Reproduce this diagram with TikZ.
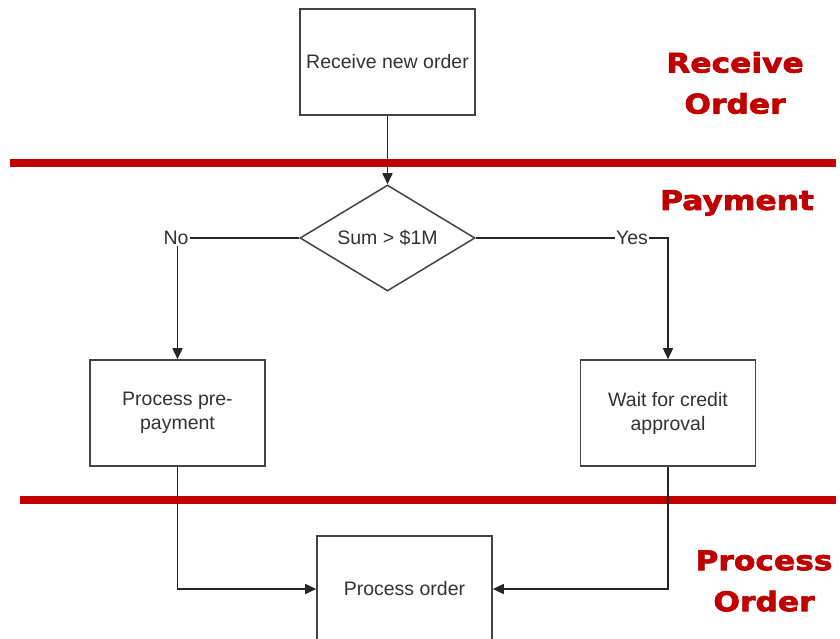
\documentclass[tikz,border=0pt]{standalone}
\usepackage{fontspec}
\setmainfont{Liberation Sans}
\newfontfamily\lanefont{DejaVu Sans}[FakeStretch=1.16,FakeBold=2.6]
\usetikzlibrary{shapes.geometric,arrows.meta}
\definecolor{lanered}{HTML}{C00000}
\definecolor{boxline}{HTML}{444444}
\definecolor{connline}{HTML}{262626}
\definecolor{txt}{HTML}{333333}
\begin{document}
\begin{tikzpicture}[x=1pt,y=-1pt,
  stepbox/.style={draw=boxline,line width=1.6pt,fill=white,minimum width=175pt,minimum height=106pt,inner sep=0pt,
    text=txt,font=\fontsize{19.5}{24}\selectfont,align=center},
  decbox/.style={draw=boxline,line width=1.5pt,diamond,shape aspect=1.65,minimum width=175pt,minimum height=106pt,inner sep=0pt,
    text=txt,font=\fontsize{19.5}{24}\selectfont},
  lbl/.style={text=txt,font=\fontsize{19.5}{24}\selectfont,inner sep=1pt},
  conn/.style={draw=connline,line width=1.6pt},
  arr/.style={conn,-{Triangle[length=11pt,width=10pt]}},
  lane/.style={draw=lanered,line width=8.5pt},
  lanetxt/.style={text=lanered,font=\lanefont\bfseries\fontsize{27}{41}\selectfont,align=center}]
\useasboundingbox (0,0) rectangle (840,639);
\fill[white] (0,0) rectangle (840,639);
% lanes
\coordinate (l1a) at (10,163);
\coordinate (l1b) at (836,163);
\coordinate (l2a) at (20,500);
\coordinate (l2b) at (836,500);
\draw[lane] (l1a) -- (l1b);
\draw[lane] (l2a) -- (l2b);
\node[lanetxt] (t1) at (735,83) {Receive\\Order};
\node[lanetxt] (t2) at (737,203) {Payment};
\node[lanetxt] (t3) at (764,581) {Process\\Order};
% nodes
\node[stepbox] (recv) at (387.5,62) {Receive new order};
\node[decbox] (dec) at (387.5,238) {Sum > \$1M};
\node[stepbox] (pre) at (177.5,413) {Process pre-\\payment};
\node[stepbox] (wait) at (668,413) {Wait for credit\\approval};
\node[stepbox] (order) at (404.5,589) {Process order};
\node[lbl] (no) at (176,238) {No};
\node[lbl] (yes) at (632,238) {Yes};
\coordinate (ycorner) at (668,238);
% connectors
\draw[arr] (recv.south) -- (dec.north);
\draw[conn] (dec.west) -- (no.east);
\draw[arr] (no.south -| pre.north) -- (pre.north);
\draw[conn] (dec.east) -- (yes.west);
\draw[arr] (yes.east) -- (ycorner) -- (wait.north);
\draw[arr] (pre.south) |- (order.west);
\draw[arr] (wait.south) |- (order.east);
\end{tikzpicture}
\end{document}
